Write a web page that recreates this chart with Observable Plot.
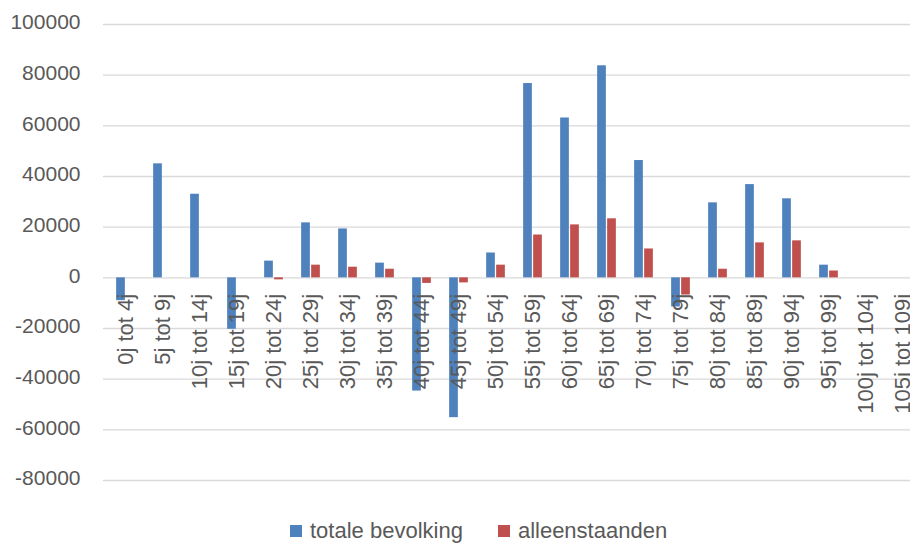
<!DOCTYPE html>
<html lang="nl">
<head>
<meta charset="utf-8">
<title>totale bevolking en alleenstaanden per leeftijdsklasse</title>
<script src="https://cdn.jsdelivr.net/npm/d3@7"></script>
<script src="https://cdn.jsdelivr.net/npm/@observablehq/plot@0.6"></script>
<style>
  html, body { margin: 0; padding: 0; background: #fff; overflow: hidden; }
  #wrap { position: relative; width: 910px; height: 543px; font-family: "Liberation Sans", Arial, sans-serif; }
  #legend {
    position: absolute; left: 290px; top: 519px; height: 24px;
    display: flex; align-items: center; font-size: 22px; color: #595959; line-height: 24px;
  }
  #legend .sw { width: 12px; height: 12px; margin-right: 8px; }
  #legend .item { display: flex; align-items: center; }
  #legend .item + .item { margin-left: 35px; }
</style>
</head>
<body>
<div id="wrap">
  <div id="chart"></div>
  <div id="legend"></div>
</div>
<script>
// Age classes (5-year bands)
const categories = [
  "0j tot 4j", "5j tot 9j", "10j tot 14j", "15j tot 19j", "20j tot 24j",
  "25j tot 29j", "30j tot 34j", "35j tot 39j", "40j tot 44j", "45j tot 49j",
  "50j tot 54j", "55j tot 59j", "60j tot 64j", "65j tot 69j", "70j tot 74j",
  "75j tot 79j", "80j tot 84j", "85j tot 89j", "90j tot 94j", "95j tot 99j",
  "100j tot 104j", "105j tot 109j"
];

// Series names
const seriesNames = ["totale bevolking", "alleenstaanden"];

// Change in total population per age class
const totaleBevolking = [
  -9000, 45000, 33000, -20300, 6600,
  21700, 19300, 5800, -44700, -55200,
  9800, 76700, 63100, 83700, 46300,
  -11500, 29600, 36800, 31200, 5000,
  0, 0
];

// Change in single-person households per age class
const alleenstaanden = [
  0, 0, 0, 0, -800,
  5000, 4200, 3400, -2200, -2000,
  5000, 16900, 20900, 23300, 11400,
  -6800, 3400, 13800, 14600, 2700,
  0, 0
];

// Y axis tick values
const yTicks = [-80000, -60000, -40000, -20000, 0, 20000, 40000, 60000, 80000, 100000];

const colors = ["#4f81bd", "#c0504d"];
const textColor = "#595959";

const rows = categories.map((c, i) => ({
  category: c,
  totaal: totaleBevolking[i],
  alleen: alleenstaanden[i]
}));

// Band geometry: each category band, two adjacent bars around its centre
const bandLeft = 104.15, bandStep = 37.3;
const half = bandStep / 2;

const chart = Plot.plot({
  width: 910,
  height: 500,
  marginTop: 24,
  marginBottom: 20,
  marginLeft: 103,
  marginRight: 0,
  style: {
    fontFamily: "'Liberation Sans', Arial, sans-serif",
    fontSize: "21px",
    color: textColor,
    background: "white"
  },
  x: {
    type: "band",
    domain: categories,
    range: [bandLeft, bandLeft + bandStep * categories.length],
    padding: 0,
    axis: null
  },
  y: {
    domain: [-80000, 100000],
    axis: null
  },
  marks: [
    Plot.gridY(yTicks, { stroke: "#d9d9d9", strokeOpacity: 1, strokeWidth: 1.4 }),
    Plot.axisY(yTicks, {
      tickSize: 0,
      tickPadding: 23,
      tickFormat: (d) => String(d),
      fontSize: 21,
      fill: textColor,
      dy: -2
    }),
    Plot.barY(rows, {
      x: "category",
      y1: 0,
      y2: "totaal",
      fill: colors[0],
      insetLeft: half - 9.5,
      insetRight: half + 0.5
    }),
    Plot.barY(rows, {
      x: "category",
      y1: 0,
      y2: "alleen",
      fill: colors[1],
      insetLeft: half + 0.5,
      insetRight: half - 9.5
    }),
    // Category labels sit just below the zero line, rotated
    Plot.text(rows, {
      x: "category",
      y: 0,
      text: "category",
      rotate: -90,
      textAnchor: "end",
      dy: 16,
      fontSize: 22,
      fill: textColor
    })
  ]
});

document.getElementById("chart").appendChild(chart);

// Legend
const legend = document.getElementById("legend");
seriesNames.forEach((name, i) => {
  const item = document.createElement("div");
  item.className = "item";
  const sw = document.createElement("span");
  sw.className = "sw";
  sw.style.background = colors[i];
  const label = document.createElement("span");
  label.textContent = name;
  item.appendChild(sw);
  item.appendChild(label);
  legend.appendChild(item);
});
</script>
</body>
</html>
